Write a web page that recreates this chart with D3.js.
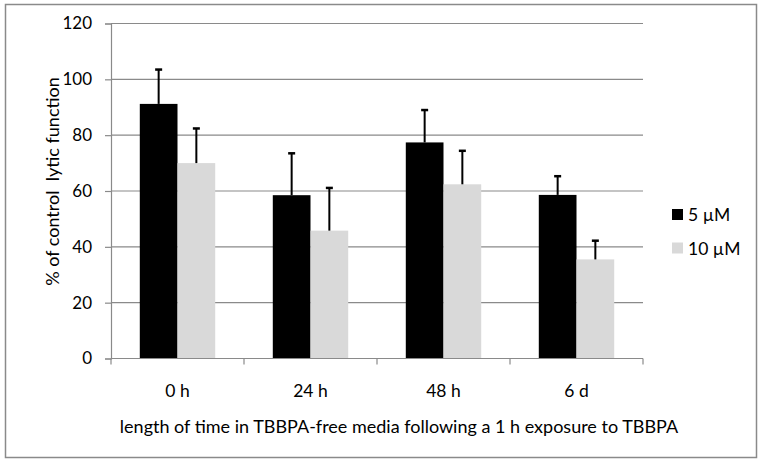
<!DOCTYPE html>
<html>
<head>
<meta charset="utf-8">
<script src="https://cdn.jsdelivr.net/npm/d3@7"></script>
<style>
  html, body { margin: 0; padding: 0; background: #fff; }
  svg text { font-family: Lato, "Open Sans", sans-serif; fill: #000; }
</style>
</head>
<body>
<svg id="chart" width="761" height="464"></svg>
<script>
const categories = ["0 h", "24 h", "48 h", "6 d"];
const seriesNames = ["5 \u00b5M", "10 \u00b5M"];
const values5 = [91.2, 58.5, 77.4, 58.6];
const err5 = [12.3, 15.0, 11.6, 6.7];
const values10 = [70.0, 45.8, 62.4, 35.5];
const err10 = [12.4, 15.3, 12.0, 6.7];
const yTicks = [0, 20, 40, 60, 80, 100, 120];
const colors = ["#000000", "#d9d9d9"];

const svg = d3.select("#chart");
const margin = { left: 111, right: 118, top: 23.5, bottom: 105.5 };
const W = 761, H = 464;
const plotW = W - margin.left - margin.right;
const plotH = H - margin.top - margin.bottom;

// chart border
svg.append("rect").attr("x", 5.5).attr("y", 4.5).attr("width", 751).attr("height", 453)
  .attr("fill", "none").attr("stroke", "#8a8a8a").attr("stroke-width", 1.5);

const g = svg.append("g").attr("transform", `translate(${margin.left},${margin.top})`);

const x0 = d3.scaleBand().domain(categories).range([0, plotW]).paddingInner(0).paddingOuter(0);
const x1 = d3.scaleBand().domain(seriesNames).range([x0.bandwidth() * 0.2165, x0.bandwidth() * 0.7835]);
const y = d3.scaleLinear().domain([0, 120]).range([plotH, 0]);

// gridlines
g.append("g").selectAll("line").data(yTicks.filter(d => d > 0)).join("line")
  .attr("x1", 0).attr("x2", plotW)
  .attr("y1", d => y(d)).attr("y2", d => y(d))
  .attr("stroke", "#8a8a8a").attr("stroke-width", 1.2);

// y axis
const yAxis = g.append("g").call(d3.axisLeft(y).tickValues(yTicks).tickSize(6).tickPadding(13));
yAxis.select(".domain").attr("stroke", "#8a8a8a").attr("stroke-width", 1.2);
yAxis.selectAll(".tick line").attr("stroke", "#8a8a8a").attr("stroke-width", 1.2);
yAxis.selectAll(".tick text").attr("font-size", 17).attr("font-family", "Lato, sans-serif").attr("fill", "#000");

// data table
const data = categories.map((c, i) => ({
  cat: c,
  bars: [
    { s: seriesNames[0], v: values5[i], e: err5[i], color: colors[0] },
    { s: seriesNames[1], v: values10[i], e: err10[i], color: colors[1] }
  ]
}));

const groups = g.append("g").selectAll("g").data(data).join("g")
  .attr("transform", d => `translate(${x0(d.cat)},0)`);

groups.selectAll("rect").data(d => d.bars).join("rect")
  .attr("x", d => x1(d.s)).attr("width", x1.bandwidth())
  .attr("y", d => y(d.v)).attr("height", d => y(0) - y(d.v))
  .attr("fill", d => d.color);

// error bars (plus only)
const eb = groups.selectAll("g.err").data(d => d.bars).join("g").attr("class", "err");
eb.append("line")
  .attr("x1", d => x1(d.s) + x1.bandwidth() / 2).attr("x2", d => x1(d.s) + x1.bandwidth() / 2)
  .attr("y1", d => y(d.v)).attr("y2", d => y(d.v + d.e))
  .attr("stroke", "#000").attr("stroke-width", 2);
eb.append("line")
  .attr("x1", d => x1(d.s) + x1.bandwidth() / 2 - 3.5).attr("x2", d => x1(d.s) + x1.bandwidth() / 2 + 3.5)
  .attr("y1", d => y(d.v + d.e)).attr("y2", d => y(d.v + d.e))
  .attr("stroke", "#000").attr("stroke-width", 2.5);

// x axis
const xa = g.append("g").attr("transform", `translate(0,${plotH})`);
xa.append("line").attr("x1", 0).attr("x2", plotW).attr("y1", 0).attr("y2", 0)
  .attr("stroke", "#8a8a8a").attr("stroke-width", 1.2);
const boundaries = categories.map(c => x0(c)).concat([plotW]);
xa.selectAll("line.tk").data(boundaries).join("line").attr("class", "tk")
  .attr("x1", d => d).attr("x2", d => d).attr("y1", 0).attr("y2", 6)
  .attr("stroke", "#8a8a8a").attr("stroke-width", 1.2);
xa.selectAll("text").data(categories).join("text")
  .attr("x", d => x0(d) + x0.bandwidth() / 2).attr("y", 38.5)
  .attr("text-anchor", "middle").attr("font-size", 17.5).text(d => d);

// axis titles
svg.append("text").attr("x", 399).attr("y", 433)
  .attr("text-anchor", "middle").attr("font-size", 18)
  .text("length of time in TBBPA-free media following a 1 h exposure to TBBPA");
svg.append("text").attr("transform", "translate(59,181.5) rotate(-90)")
  .attr("text-anchor", "middle").attr("font-size", 18)
  .attr("xml:space", "preserve").style("white-space", "pre")
  .text("% of control  lytic function");

// legend
const legend = svg.append("g");
const legendY = [215, 248.5];
seriesNames.forEach((s, i) => {
  legend.append("rect").attr("x", 672).attr("y", legendY[i] - 6).attr("width", 11).attr("height", 11)
    .attr("fill", colors[i]);
  legend.append("text").attr("x", 688).attr("y", legendY[i] + 6).attr("font-size", 17.5).text(s);
});
</script>
</body>
</html>
